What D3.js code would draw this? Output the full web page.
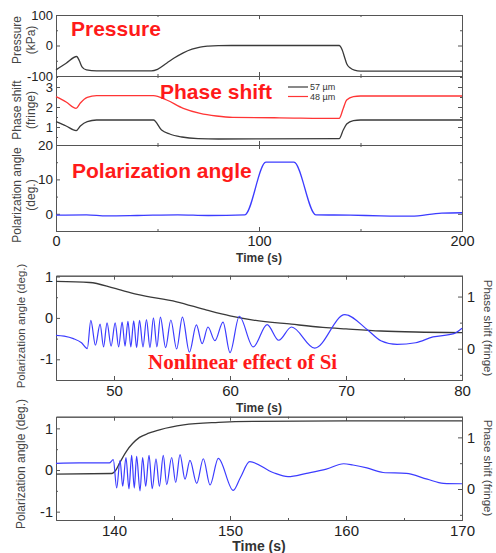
<!DOCTYPE html>
<html lang="en">
<head>
<meta charset="utf-8">
<title>Pressure, phase shift and polarization angle</title>
<script src="https://d3js.org/d3.v7.min.js"></script>
<style>
  body { margin:0; background:#fff; }
  svg { width:496px; height:553px; display:block; }
  text { font-family: "Liberation Sans", Arial, sans-serif; }
  .axis path, .axis line { stroke:#555; stroke-width:1px; }
  .axis text { fill:#222; }
  .title { font-size:21px; font-weight:bold; fill:#ff1a1a; }
  .atitle { font-size:12px; fill:#444; }
  .xtitle { font-weight:bold; fill:#333; }
</style>
</head>
<body>
<svg></svg>
<script>

// ---- top group: time (s) vs pressure / phase shift / polarization ----
const pressure = [[0,-80],[5,-58],[10.2,-36],[11.5,-50],[12.8,-70],[15,-80],[20,-83],[47,-83],[50,-78],
  [54.5,-58],[58,-42],[62.7,-24],[67,-12],[71,-5],[75,-2],[80,-0.5],[90,0],[139.5,0],[141,-15],[142,-35],
  [143.2,-60],[145,-74],[147,-81],[150,-84],[160,-84],[200,-84]];

const phase57 = [[0,1.27],[5,1.05],[9.9,0.82],[12,1.05],[15.4,1.27],[20,1.35],[48,1.35],[52,0.85],[56,0.65],
  [62,0.5],[70,0.42],[80,0.4],[139.5,0.42],[141.5,0.85],[143.2,1.15],[146.5,1.32],[150,1.35],[200,1.35]];

const phase48 = [[0,2.52],[5,2.25],[9.9,1.93],[12,2.2],[15.4,2.48],[20,2.57],[48,2.57],[54.5,2.35],[62.7,1.93],
  [71,1.68],[79,1.55],[87,1.48],[110,1.46],[139.5,1.43],[141.5,1.93],[143.2,2.35],[146.5,2.52],[150,2.55],[200,2.55]];

const polTop = [[0,-0.4],[15,-0.3],[25,-0.6],[40,-0.5],[60,-0.3],[75,-0.5],[93,-0.3],[103.4,15],[117.2,15],
  [128,-0.3],[145,-0.4],[160,-0.6],[175,-0.7],[190,0.2],[200,0.3]];

// ---- middle panel: 45-80 s ----
const phase2 = [[45,1.29],[47.9,1.27],[50,1.16],[52,1.04],[55.4,0.9],[58,0.74],[60,0.63],[62,0.55],[65.3,0.47],
  [68,0.41],[70,0.38],[73,0.34],[76,0.32],[80,0.31]];

const pol2 = [[45,-0.42],[45.7,-0.44],[46.5,-0.5],[47.2,-0.6],[47.7,-0.74],
  [48.0,-0.06],[48.4,-0.66],[48.8,-0.15],[49.1,-0.7],[49.4,-0.12],[49.75,-0.68],[50.1,-0.12],[50.4,-0.7],
  [50.7,-0.1],[50.95,-0.68],[51.2,-0.08],[51.45,-0.7],[51.7,-0.07],[51.95,-0.72],[52.2,-0.06],[52.5,-0.7],
  [52.8,-0.04],[53.1,-0.72],[53.4,0.0],[53.7,-0.7],[54.0,0.02],[54.45,-0.72],[54.9,-0.05],[55.4,-0.75],
  [55.9,0.02],[56.5,-0.83],[57.1,-0.17],[57.6,-0.62],[58.1,-0.22],[58.7,-0.55],[59.4,-0.1],[60.0,-0.84],
  [60.8,0.04],[62.0,-0.7],[63.2,-0.16],[64.2,-0.54],[65.3,-0.22],[67.3,-0.73],[69.9,0.08],[71.9,-0.3],
  [73,-0.55],[74.4,-0.64],[76,-0.6],[77.5,-0.46],[79.3,-0.38],[80,-0.25]];

// ---- bottom panel: 135-170 s ----
const phase3 = [[135,0.29],[139.8,0.3],[140.2,0.38],[140.5,0.51],[141.1,0.74],[141.6,0.88],[142.2,1.0],
  [143,1.08],[144,1.15],[146,1.24],[149,1.29],[152,1.31],[160,1.32],[170,1.32]];

const pol3 = [[135,0.16],[137,0.17],[139.6,0.17],[139.94,0.25],[140.23,-0.43],[140.52,0.23],[140.75,-0.39],
  [141.03,0.3],[141.29,-0.45],[141.52,0.35],[141.75,-0.43],[141.95,0.33],[142.24,-0.5],[142.47,0.3],
  [142.73,-0.39],[143.02,0.35],[143.3,-0.45],[143.62,0.27],[143.91,-0.39],[144.25,0.35],[144.54,-0.35],
  [144.97,0.3],[145.32,-0.3],[145.69,0.37],[146.12,-0.22],[146.55,0.23],[147.13,-0.32],[147.7,0.27],
  [148.28,-0.36],[148.99,0.28],[150.28,-0.49],[150.9,-0.18],[151.7,0.2],[153.7,-0.06],[155,-0.16],
  [156.6,-0.08],[158.3,0.02],[159.8,0.15],[160.6,0.12],[161.8,0.05],[163.2,-0.06],[165.2,-0.08],
  [167,-0.22],[168.4,-0.32],[170,-0.33]];

const legendLabels = ["57 \u00b5m", "48 \u00b5m"];

const svg = d3.select("svg");

// scales
const xTop = d3.scaleLinear().domain([0,200]).range([56,462]);
const yPress = d3.scaleLinear().domain([-100,100]).range([76,15]);
const yPhase = d3.scaleLinear().domain([0.1,3.55]).range([145,76]);
const yPol = d3.scaleLinear().domain([-5,20]).range([231,145]);

const x2 = d3.scaleLinear().domain([45,80]).range([56,462]);
const yL2 = d3.scaleLinear().domain([-1.5,1.02]).range([380,275.7]);
const yR2 = d3.scaleLinear().domain([-0.6,1.4]).range([380,275.7]);

const x3 = d3.scaleLinear().domain([135,170]).range([56,462]);
const yL3 = d3.scaleLinear().domain([-1.2,1.28]).range([520,416.7]);
const yR3 = d3.scaleLinear().domain([-0.6,1.4]).range([520,416.7]);

const fmt = d => String(d);

// draws a framed box with inward ticks
function box(x, y, o) {
  const [x0, x1] = x.range();
  const [yb, yt] = y.range();
  const add = (gen, tx, ty, vals, size, labels, fs, pad) => {
    const g = svg.append("g").attr("class","axis").attr("transform","translate(" + [tx,ty] + ")")
      .call(gen.tickValues(vals).tickSize(-size).tickSizeOuter(0).tickPadding(pad || 4)
        .tickFormat(labels ? fmt : ""));
    g.selectAll("text").style("font-size", fs + "px");
    return g;
  };
  add(d3.axisBottom(x), 0, yb, o.xMajor, 4, o.xLabels, o.xFs, 5);
  add(d3.axisBottom(x), 0, yb, o.xMinor, 2, false);
  add(d3.axisTop(x), 0, yt, o.xMajor, 4, false);
  add(d3.axisTop(x), 0, yt, o.xMinor, 2, false);
  add(d3.axisLeft(y), x0, 0, o.yMajor, 4, true, o.yFs, 3);
  add(d3.axisLeft(y), x0, 0, o.yMinor, 2, false);
  const yr = o.yRight || y;
  add(d3.axisRight(yr), x1, 0, o.rMajor || o.yMajor, 4, !!o.yRight, o.yFs, 5);
  add(d3.axisRight(yr), x1, 0, o.rMinor || o.yMinor, 2, false);
}

box(xTop, yPress, {xMajor:[0,100,200], xMinor:[50,150], xLabels:false,
  yMajor:[-100,0,100], yMinor:[-50,50], yFs:13});
box(xTop, yPhase, {xMajor:[0,100,200], xMinor:[50,150], xLabels:false,
  yMajor:[1,2,3], yMinor:[0.5,1.5,2.5,3.5], yFs:13});
box(xTop, yPol, {xMajor:[0,100,200], xMinor:[50,150], xLabels:true, xFs:14.5,
  yMajor:[0,10,20], yMinor:[-5,5,15], yFs:13.5});

box(x2, yL2, {xMajor:[50,60,70,80], xMinor:[55,65,75], xLabels:true, xFs:15,
  yMajor:[-1,0,1], yMinor:[-0.5,0.5], yFs:14.5,
  yRight:yR2, rMajor:[0,1], rMinor:[-0.5,0.5]});
box(x3, yL3, {xMajor:[140,150,160,170], xMinor:[145,155,165], xLabels:true, xFs:15,
  yMajor:[-1,0,1], yMinor:[-0.5,0.5], yFs:14.5,
  yRight:yR3, rMajor:[0,1], rMinor:[-0.5,0.5]});

// lines
function draw(data, x, y, color, w) {
  svg.append("path")
    .datum(data)
    .attr("fill","none")
    .attr("stroke", color)
    .attr("stroke-width", w || 1.3)
    .attr("stroke-linejoin","round")
    .attr("d", d3.line().x(d => x(d[0])).y(d => y(d[1])).curve(d3.curveMonotoneX));
}

const BLACK = "#3a3a3a", RED = "#ff3535", BLUE = "#3c3cff";

draw(pressure, xTop, yPress, BLACK);
draw(phase57, xTop, yPhase, BLACK);
draw(phase48, xTop, yPhase, RED);
draw(polTop, xTop, yPol, BLUE);

draw(phase2, x2, yR2, BLACK);
draw(pol2, x2, yL2, BLUE, 1.2);

draw(phase3, x3, yR3, BLACK);
draw(pol3, x3, yL3, BLUE, 1.2);

// legend
[BLACK, RED].forEach((c, i) => {
  svg.append("line").attr("x1",288).attr("x2",308).attr("y1",87 + i*9.5).attr("y2",87 + i*9.5)
    .attr("stroke", c).attr("stroke-width",1.2);
  svg.append("text").attr("x",310).attr("y",87 + i*9.5).attr("dy","0.35em")
    .style("font-size","9px").attr("fill","#333").text(legendLabels[i]);
});

// panel titles
svg.append("text").attr("class","title").attr("x",71).attr("y",36).text("Pressure");
svg.append("text").attr("class","title").attr("x",160).attr("y",99).text("Phase shift");
svg.append("text").attr("class","title").attr("x",72).attr("y",178).text("Polarization angle");
svg.append("text").attr("x",148).attr("y",369)
  .style("font-family",'"Liberation Serif", "Times New Roman", serif')
  .style("font-size","21px").style("font-weight","bold").attr("fill","#ff1a1a")
  .text("Nonlinear effect of Si");

// axis titles
function vtitle(lines, x, y, rot, fs) {
  const t = svg.append("text").attr("class","atitle")
    .attr("transform","translate(" + [x,y] + ") rotate(" + rot + ")")
    .attr("text-anchor","middle").style("font-size", fs + "px");
  lines.forEach((s, i) => {
    t.append("tspan").attr("x",0).attr("dy", i === 0 ? "0.35em" : "1.15em").text(s);
  });
}
vtitle(["Pressure","(kPa)"], 17, 40, -90, 12);
vtitle(["Phase shift","(fringe)"], 17, 110, -90, 12);
vtitle(["Polarization angle","(deg.)"], 17, 195, -90, 12);
vtitle(["Polarization angle (deg.)"], 21, 326, -90, 11.5);
vtitle(["Polarization angle (deg.)"], 21, 464, -90, 12);
vtitle(["Phase shift (fringe)"], 488, 328, 90, 11.5);
vtitle(["Phase shift (fringe)"], 488, 468, 90, 11.5);

svg.append("text").attr("class","xtitle").attr("x",259).attr("y",262)
  .attr("text-anchor","middle").style("font-size","12px").text("Time (s)");
svg.append("text").attr("class","xtitle").attr("x",259).attr("y",412)
  .attr("text-anchor","middle").style("font-size","12px").text("Time (s)");
svg.append("text").attr("class","xtitle").attr("x",259).attr("y",551)
  .attr("text-anchor","middle").style("font-size","14px").text("Time (s)");

</script>
</body>
</html>
